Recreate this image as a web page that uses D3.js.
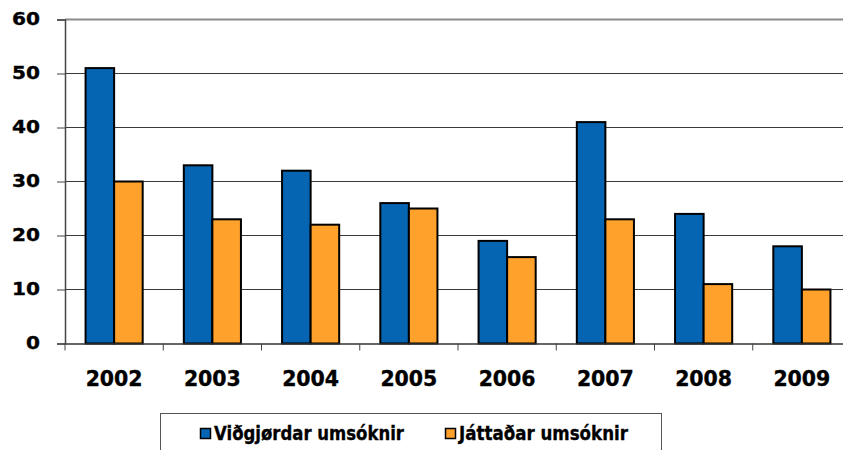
<!DOCTYPE html>
<html>
<head>
<meta charset="utf-8">
<script src="https://cdn.jsdelivr.net/npm/d3@7"></script>
<style>
  html, body { margin: 0; padding: 0; background: #fff; }
  svg { display: block; }
  text { font-family: "DejaVu Sans", Verdana, sans-serif; font-weight: bold; fill: #000; stroke: #000; stroke-width: 0.35px; }
</style>
</head>
<body>
<svg id="chart" width="843" height="450"></svg>
<script>
const years = ["2002", "2003", "2004", "2005", "2006", "2007", "2008", "2009"];
const vidgjordar = [51, 33, 32, 26, 19, 41, 24, 18];
const jattadar = [30, 23, 22, 25, 16, 23, 11, 10];
const seriesNames = ["Viðgjørdar umsóknir", "Játtaðar umsóknir"];
const seriesColors = ["#0565B3", "#FFA12B"];
const yTicks = [0, 10, 20, 30, 40, 50, 60];

const svg = d3.select("#chart");
const plotL = 65, plotR = 851, plotT = 19.5, plotB = 343.5;

const x = d3.scaleBand().domain(years).range([plotL, plotR]).paddingInner(0).paddingOuter(0);
const xs = d3.scaleBand().domain([0, 1]).range([0, x.bandwidth()]).paddingInner(0).paddingOuter(0.72);
const y = d3.scaleLinear().domain([0, 60]).range([plotB, plotT]);

// gridlines
svg.append("g").selectAll("line").data(yTicks.filter(t => t > 0)).join("line")
  .attr("x1", plotL).attr("x2", 843)
  .attr("y1", d => y(d)).attr("y2", d => y(d))
  .attr("stroke", d => d === 60 ? "#8a8a8a" : "#3a3a3a")
  .attr("stroke-width", d => d === 60 ? 2 : 1);

// y axis
const yAxis = d3.axisLeft(y).tickValues(yTicks).tickSize(8).tickPadding(17).tickFormat(d3.format("d"));
const gy = svg.append("g").attr("transform", `translate(${plotL},0)`).call(yAxis);
gy.select(".domain").attr("stroke", "#444").attr("stroke-width", 1.5);
gy.selectAll(".tick line").attr("stroke", "#444");
gy.selectAll(".tick text").attr("font-size", 17).attr("fill", "#000")
  .attr("font-family", "DejaVu Sans").attr("font-weight", "bold")
  .each(function(d) { d3.select(this).attr("textLength", String(d).length * 14).attr("lengthAdjust", "spacingAndGlyphs"); });

// bars
const groups = svg.append("g").selectAll("g").data(years).join("g")
  .attr("transform", d => `translate(${x(d)},0)`);
groups.selectAll("rect").data((d, i) => [vidgjordar[i], jattadar[i]]).join("rect")
  .attr("x", (d, j) => xs(j))
  .attr("width", xs.bandwidth())
  .attr("y", d => y(d))
  .attr("height", d => y(0) - y(d))
  .attr("fill", (d, j) => seriesColors[j])
  .attr("stroke", "#000").attr("stroke-width", 2);

// x axis
const xAxis = d3.axisBottom(x).tickSize(0).tickPadding(28);
const gx = svg.append("g").attr("transform", `translate(0,${plotB})`).call(xAxis);
gx.select(".domain").attr("stroke", "#333").attr("stroke-width", 1.5);
gx.selectAll(".tick text").attr("font-size", 20.5).attr("fill", "#000")
  .attr("font-family", "DejaVu Sans").attr("font-weight", "bold")
  .attr("textLength", 57).attr("lengthAdjust", "spacingAndGlyphs");
// category boundary ticks
gx.append("g").selectAll("line").data(years).join("line")
  .attr("x1", d => x(d)).attr("x2", d => x(d))
  .attr("y1", 0).attr("y2", 7)
  .attr("stroke", "#444").attr("stroke-width", 1);

// legend
const lg = svg.append("g");
lg.append("rect").attr("x", 160.5).attr("y", 413.5).attr("width", 501).attr("height", 45)
  .attr("fill", "#fff").attr("stroke", "#555").attr("stroke-width", 1);
const legendX = [200, 445];
const legendW = [190, 169];
seriesNames.forEach((name, i) => {
  lg.append("rect").attr("x", legendX[i] + 0.5).attr("y", 428.5).attr("width", 10).attr("height", 10)
    .attr("fill", seriesColors[i]).attr("stroke", "#000").attr("stroke-width", 1.5);
  lg.append("text").attr("x", legendX[i] + 14).attr("y", 440).attr("font-size", 19.5)
    .attr("textLength", legendW[i]).attr("lengthAdjust", "spacingAndGlyphs").text(name);
});
</script>
</body>
</html>
